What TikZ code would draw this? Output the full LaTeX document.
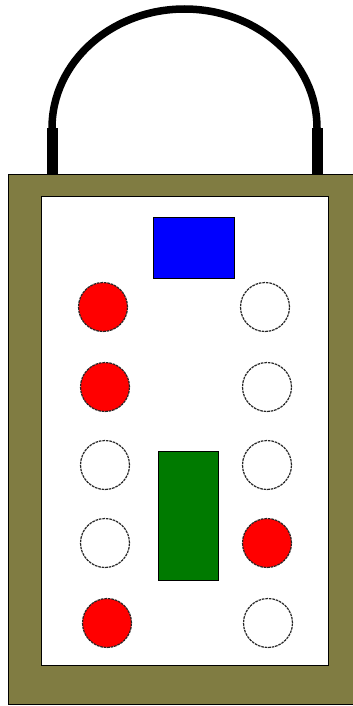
\documentclass[tikz,border=0pt]{standalone}
\usetikzlibrary{calc}
\definecolor{olivebody}{RGB}{128,124,66}
\definecolor{ledred}{RGB}{255,0,0}
\definecolor{btnblue}{RGB}{0,0,255}
\definecolor{btngreen}{RGB}{0,122,0}
\begin{document}
\begin{tikzpicture}[x=1pt,y=-1pt,
  led/.style={circle,draw=black!85,line width=1.2pt,dash pattern=on 2.6pt off 0.9pt,minimum size=49pt,inner sep=0pt},
  onled/.style={led,fill=ledred},
  offled/.style={led,fill=white},
  panel/.style={draw=black,line width=1pt}]
\useasboundingbox (0,0) rectangle (353,706);
\clip (0,0) rectangle (353,706);
% handle
\draw[line width=7.5pt] (52,130) -- (52,128) arc[start angle=180,end angle=0,x radius=132.5,y radius=-119] -- (317,130);
\draw[line width=11pt] (52,174) -- (52,128);
\draw[line width=11pt] (317,174) -- (317,128);
% body
\node[panel,fill=olivebody,minimum width=360pt,minimum height=530pt,anchor=north west,inner sep=0pt] (body) at (7.5,173.5) {};
\node[panel,fill=white,minimum width=287pt,minimum height=469pt,anchor=north west,inner sep=0pt] (screen) at (40.5,195.5) {};
\node[panel,draw=black,line width=0.8pt,fill=btnblue,minimum width=81pt,minimum height=61pt,anchor=north west,inner sep=0pt] (blue) at (152.5,217) {};
\node[panel,draw=black,line width=0.8pt,fill=btngreen,minimum width=60pt,minimum height=129pt,anchor=north west,inner sep=0pt] (green) at (158,451) {};
% left column
\node[onled] (l1) at (103,307) {};
\node[onled] (l2) at (105,387) {};
\node[offled] (l3) at (105,465) {};
\node[offled] (l4) at (105,543) {};
\node[onled] (l5) at (107,623) {};
% right column
\node[offled] (r1) at (265,307) {};
\node[offled] (r2) at (267,387) {};
\node[offled] (r3) at (267,465) {};
\node[onled] (r4) at (267,543) {};
\node[offled] (r5) at (268,623) {};
\end{tikzpicture}
\end{document}
